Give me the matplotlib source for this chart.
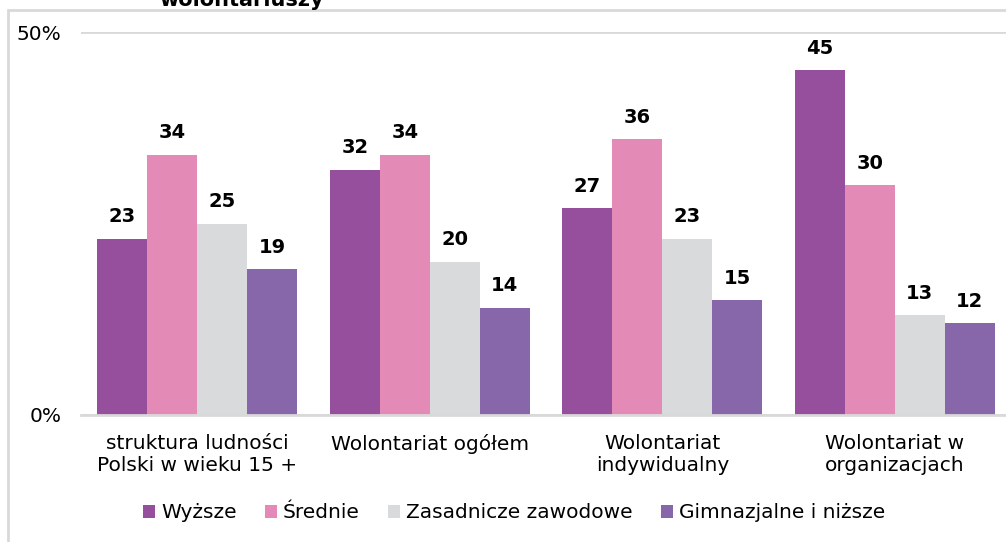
import matplotlib.pyplot as plt
import numpy as np
from matplotlib.patches import Rectangle

categories = ['struktura ludności\nPolski w wieku 15 +', 'Wolontariat ogółem',
              'Wolontariat\nindywidualny', 'Wolontariat w\norganizacjach']
series = ['Wyższe', 'Średnie', 'Zasadnicze zawodowe', 'Gimnazjalne i niższe']
wyzsze = [23, 32, 27, 45]
srednie = [34, 34, 36, 30]
zasadnicze = [25, 20, 23, 13]
gimnazjalne = [19, 14, 15, 12]
colors = ['#954F9C', '#E48AB7', '#D9DADB', '#8866AA']

plt.rcParams['font.family'] = ['DejaVu Sans']

fig = plt.figure(figsize=(10.06, 5.42), dpi=100)
# ramka wykresu (obcięta po prawej i na dole)
fig.patches.append(Rectangle((8 / 1006, -0.1), 1.2, 1 - 10 / 542 + 0.1,
                             transform=fig.transFigure, fill=False,
                             edgecolor='#D9D9D9', linewidth=2))
# tytuł obcięty u góry, tak jak w oryginale
fig.text(242 / 1006, 1 - 6 / 542, 'wolontariuszy', ha='center', va='baseline',
         fontsize=15, fontweight='bold')

# osie wychodzą poza prawą krawędź obrazka
ax = fig.add_axes([81 / 1006, 1 - 415 / 542, 930 / 1006, 383 / 542])

x = np.arange(len(categories))
w = 0.215
data = [wyzsze, srednie, zasadnicze, gimnazjalne]
for i, vals in enumerate(data):
    pos = x + (i - 1.5) * w
    ax.bar(pos, vals, w, color=colors[i], label=series[i], zorder=2)
    for p, v in zip(pos, vals):
        ax.annotate(str(v), (p, v), xytext=(0, 9), textcoords='offset points',
                    ha='center', va='bottom', fontsize=14, fontweight='bold')

ax.set_xlim(-0.5, 3.5)
ax.set_ylim(0, 50)
ax.set_yticks([0, 50])
ax.set_yticklabels(['0%', '50%'])
ax.yaxis.grid(True, color='#D9D9D9', linewidth=2)
ax.set_axisbelow(True)
ax.set_xticks(x)
ax.set_xticklabels(categories)
for s in ['top', 'right', 'left']:
    ax.spines[s].set_visible(False)
ax.spines['bottom'].set_color('#D9D9D9')
ax.spines['bottom'].set_linewidth(2)
ax.tick_params(axis='both', length=0, labelsize=14.5)
ax.tick_params(axis='y', pad=14)
ax.tick_params(axis='x', pad=14)

fig.legend(loc='center', bbox_to_anchor=(514 / 1006, 1 - 513 / 542), ncol=4,
           frameon=False, fontsize=14.5, handlelength=0.6, handleheight=0.6,
           handletextpad=0.3, columnspacing=1.4)

fig.savefig('out.png', dpi=100)
